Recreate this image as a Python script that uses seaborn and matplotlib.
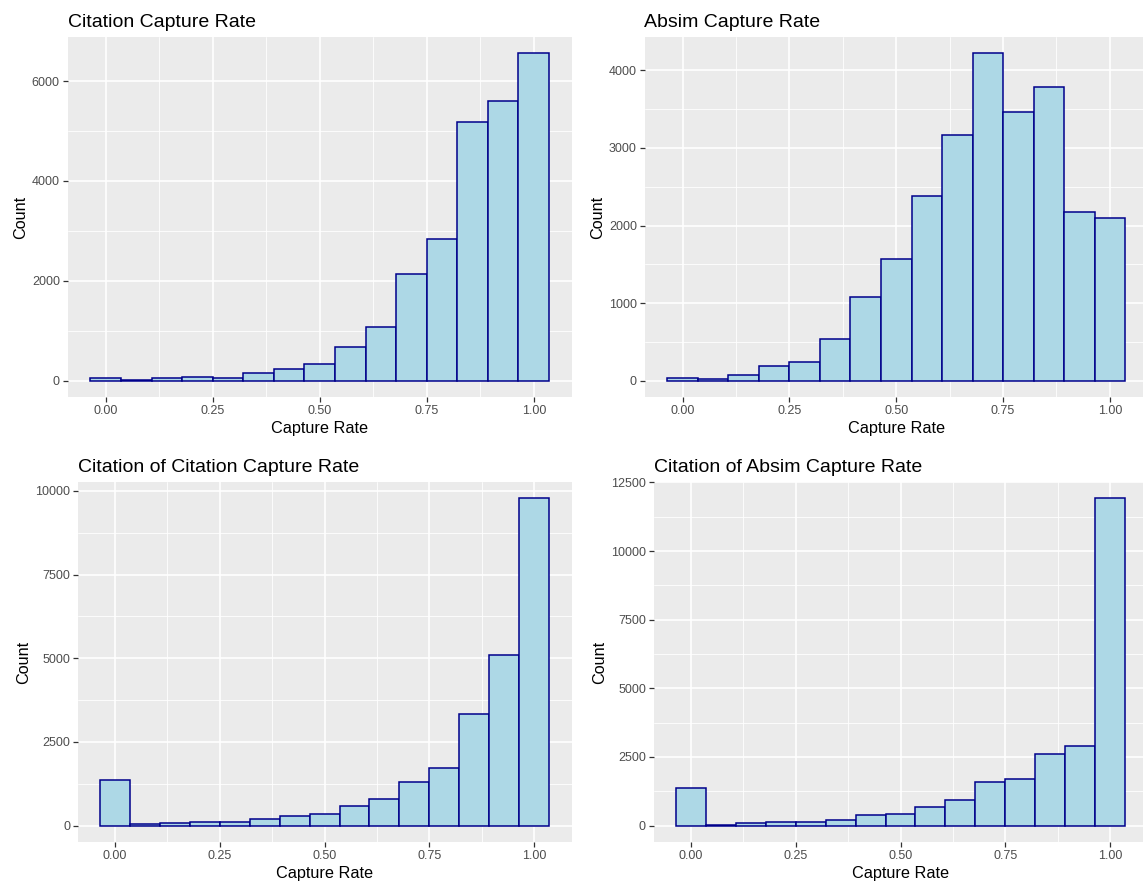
import numpy as np
import pandas as pd
import matplotlib
matplotlib.use("Agg")
import matplotlib.pyplot as plt
import seaborn as sns
from matplotlib.ticker import FixedLocator, FormatStrFormatter, MultipleLocator

# ---- data (counts per bin, bins centred at 0, 1/14, ..., 1) ----
n_bins = 15
bin_centers = [i / (n_bins - 1) for i in range(n_bins)]
bin_edges = [(i - 0.5) / (n_bins - 1) for i in range(n_bins + 1)]

citation_counts = [47, 20, 53, 67, 60, 147, 227, 340, 680, 1080, 2145, 2840, 5190, 5610, 6555]
absim_counts = [30, 15, 73, 192, 243, 534, 1077, 1567, 2380, 3170, 4220, 3468, 3787, 2174, 2100]
cit_of_cit_counts = [1370, 40, 90, 120, 120, 190, 290, 360, 590, 790, 1290, 1720, 3330, 5110, 9775]
cit_of_absim_counts = [1355, 36, 85, 145, 121, 206, 376, 424, 678, 932, 1585, 1694, 2621, 2888, 11917]

titles = ["Citation Capture Rate", "Absim Capture Rate",
          "Citation of Citation Capture Rate", "Citation of Absim Capture Rate"]
x_ticks = [0.0, 0.25, 0.5, 0.75, 1.0]
y_steps = [2000, 1000, 2500, 2500]

sns.set_theme(style="darkgrid")
plt.rcParams["font.family"] = ["Liberation Sans", "DejaVu Sans"]

W, H = 1143, 884
fig = plt.figure(figsize=(W / 100, H / 100), dpi=100)
fig.patch.set_facecolor("white")

# panel rectangles in pixels: left, right, top, bottom
rects = [(67.5, 572, 37, 397), (644.5, 1148, 37, 397),
         (77.7, 571.5, 482, 842), (653.6, 1147.4, 482, 842)]
series = [citation_counts, absim_counts, cit_of_cit_counts, cit_of_absim_counts]

for (l, r, t, b), counts, title, step in zip(rects, series, titles, y_steps):
    ax = fig.add_axes([l / W, 1 - b / H, (r - l) / W, (b - t) / H])
    ax.set_facecolor("#EBEBEB")
    df = pd.DataFrame({"rate": bin_centers, "count": counts})
    sns.histplot(data=df, x="rate", weights="count", bins=bin_edges, ax=ax,
                 color="#ADD8E6", edgecolor="#00008B", linewidth=1.1, alpha=1)
    ymax = max(counts)
    ax.set_xlim(-0.0893, 1.0893)
    ax.set_ylim(-0.05 * ymax, 1.05 * ymax)
    ax.xaxis.set_major_locator(FixedLocator(x_ticks))
    ax.xaxis.set_major_formatter(FormatStrFormatter("%.2f"))
    ax.xaxis.set_minor_locator(FixedLocator([-0.125, 0.125, 0.375, 0.625, 0.875, 1.125]))
    ax.yaxis.set_major_locator(MultipleLocator(step))
    ax.yaxis.set_major_formatter(FormatStrFormatter("%d"))
    ax.yaxis.set_minor_locator(MultipleLocator(step / 2))
    ax.grid(which="major", color="white", linewidth=1.2)
    ax.grid(which="minor", color="white", linewidth=0.6)
    ax.set_axisbelow(True)
    for s in ax.spines.values():
        s.set_visible(False)
    ax.tick_params(which="major", length=3.5, width=0.9, color="#333333",
                   labelcolor="#4D4D4D", labelsize=9, pad=2,
                   bottom=True, left=True)
    ax.tick_params(which="minor", length=0)
    ax.set_xlabel("Capture Rate", fontsize=11.7, color="black", labelpad=3)
    ax.set_ylabel("Count", fontsize=11.7, color="black", labelpad=3)
    ax.set_title(title, loc="left", fontsize=14, color="black", pad=7)

fig.savefig("out.png", dpi=100)
